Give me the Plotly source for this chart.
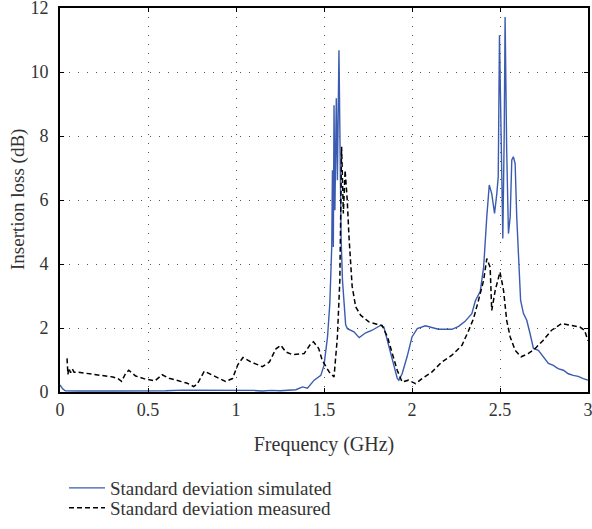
import plotly.graph_objects as go

# Simulated standard deviation (blue solid)
sim_freq = [0.0, 0.015, 0.03, 0.1, 0.3, 0.5, 0.6, 0.7, 0.8, 0.9, 1.0, 1.05, 1.1, 1.15, 1.2, 1.25,
            1.3, 1.34, 1.378, 1.406, 1.444, 1.482, 1.50, 1.52, 1.533, 1.544, 1.548, 1.553, 1.557,
            1.562, 1.57, 1.576, 1.585, 1.591, 1.597, 1.605, 1.614, 1.623, 1.633, 1.67, 1.70, 1.737,
            1.774, 1.82, 1.84, 1.87, 1.897, 1.916, 1.925, 1.944, 1.972, 2.0, 2.03, 2.076, 2.15,
            2.227, 2.265, 2.30, 2.34, 2.36, 2.388, 2.407, 2.425, 2.439, 2.453, 2.469, 2.482, 2.49,
            2.497, 2.507, 2.516, 2.524, 2.529, 2.538, 2.548, 2.558, 2.567, 2.576, 2.586, 2.595,
            2.608, 2.617, 2.633, 2.652, 2.671, 2.69, 2.718, 2.746, 2.775, 2.803, 2.83, 2.86, 2.888,
            2.916, 2.944, 2.973, 3.0]
sim_vals = [0.22, 0.1, 0.04, 0.03, 0.03, 0.03, 0.04, 0.06, 0.06, 0.06, 0.06, 0.04, 0.05, 0.03, 0.05, 0.04,
            0.06, 0.07, 0.16, 0.12, 0.37, 0.52, 0.83, 1.72, 2.76, 4.53, 6.93, 4.53, 8.96,
            5.68, 9.18, 6.62, 10.68, 6.5, 4.85, 3.49, 2.76, 2.1, 1.98, 1.88, 1.70, 1.85,
            1.93, 2.08, 2.03, 1.41, 0.79, 0.43, 0.37, 0.57, 1.10, 1.72, 1.98, 2.07, 1.96,
            1.96, 2.05, 2.2, 2.45, 2.85, 3.15, 3.9, 5.48, 6.47, 6.2, 5.58, 6.2, 6.73,
            11.15, 7.0, 4.8, 8.08, 11.72, 7.56, 4.95, 5.48, 7.25, 7.35, 7.14, 5.48,
            3.6, 2.87, 2.46, 2.24, 1.82, 1.36, 1.30, 1.09, 0.89, 0.83, 0.73, 0.68, 0.57,
            0.52, 0.49, 0.42, 0.37]

# Measured standard deviation (black dashed)
meas_freq = [0.04, 0.045, 0.05, 0.06, 0.07, 0.08, 0.1, 0.15, 0.2, 0.25, 0.3, 0.33, 0.35, 0.37, 0.39,
             0.43, 0.48, 0.54, 0.58, 0.62, 0.68, 0.72, 0.76, 0.78, 0.82, 0.87, 0.94, 0.98, 1.01,
             1.04, 1.085, 1.15, 1.19, 1.227, 1.255, 1.283, 1.32, 1.387, 1.425, 1.44, 1.47, 1.49,
             1.53, 1.557, 1.576, 1.59, 1.60, 1.61, 1.62, 1.632, 1.642, 1.66, 1.68, 1.708, 1.755,
             1.80, 1.83, 1.86, 1.887, 1.916, 1.944, 1.98, 2.02, 2.057, 2.114, 2.17, 2.227, 2.284,
             2.32, 2.35, 2.378, 2.407, 2.425, 2.444, 2.453, 2.473, 2.50, 2.52, 2.538, 2.558,
             2.586, 2.62, 2.66, 2.70, 2.746, 2.793, 2.85, 2.906, 2.954, 2.98, 3.0]
meas_vals = [1.05, 0.55, 0.75, 0.6, 0.72, 0.62, 0.62, 0.58, 0.54, 0.5, 0.47, 0.42, 0.33, 0.55, 0.68,
             0.5, 0.41, 0.35, 0.54, 0.43, 0.35, 0.28, 0.17, 0.25, 0.65, 0.52, 0.33, 0.42, 0.85,
             1.08, 0.94, 0.79, 0.94, 1.35, 1.46, 1.25, 1.17, 1.2, 1.51, 1.57, 1.36, 0.99,
             0.62, 0.47, 1.72, 3.49, 7.66, 5.58, 6.93, 6.0, 4.85, 3.3, 2.66, 2.4, 2.19,
             2.12, 2.08, 1.73, 1.2, 0.68, 0.31, 0.37, 0.26, 0.42, 0.63, 0.94, 1.15, 1.46,
             1.9, 2.3, 2.87, 3.49, 4.17, 3.9, 2.55, 3.18, 3.75, 3.18, 2.24, 1.72,
             1.30, 1.1, 1.2, 1.36, 1.62, 1.93, 2.14, 2.08, 2.03, 1.93, 1.6]

x_ticks = [0, 0.5, 1, 1.5, 2, 2.5, 3]
x_tick_text = ["0", "0.5", "1", "1.5", "2", "2.5", "3"]
y_ticks = [0, 2, 4, 6, 8, 10, 12]

FONT = "'Liberation Serif', 'DejaVu Serif', serif"
TXT = "#333333"
W, H = 592, 529

fig = go.Figure()
fig.add_trace(go.Scatter(x=sim_freq, y=sim_vals, mode="lines",
                         name="Standard deviation simulated", legend="legend",
                         line=dict(color="#3a5bb0", width=1.4)))
fig.add_trace(go.Scatter(x=meas_freq, y=meas_vals, mode="lines",
                         name="Standard deviation measured", legend="legend2",
                         line=dict(color="black", width=1.5, dash="5px,3px")))

axis_common = dict(showline=True, linecolor="black", linewidth=2, mirror="ticks",
                   ticks="inside", ticklen=4, tickcolor="black", automargin=True,
                   ticklabeloverflow="allow",
                   showgrid=True, gridcolor="#555555", griddash="1px,8px", gridwidth=1,
                   zeroline=False, tickfont=dict(family=FONT, size=18, color=TXT))

fig.update_xaxes(range=[0, 3], tickvals=x_ticks, ticktext=x_tick_text,
                 title=dict(text="Frequency (GHz)", font=dict(family=FONT, size=20, color=TXT), standoff=18),
                 **axis_common)
fig.update_yaxes(range=[0, 12], tickvals=y_ticks, ticklabelstandoff=6, **axis_common)

leg_common = dict(xref="container", yref="container", xanchor="left", yanchor="middle",
                  font=dict(family=FONT, size=19, color=TXT), bgcolor="rgba(0,0,0,0)",
                  itemwidth=36, borderwidth=0)

fig.update_layout(
    width=W, height=H,
    margin=dict(l=60, r=4, t=8, b=137, autoexpand=False),
    plot_bgcolor="white", paper_bgcolor="white",
    font=dict(family=FONT, size=18, color=TXT),
    showlegend=True,
    legend=dict(x=64 / W, y=1 - 488 / H, **leg_common),
    legend2=dict(x=64 / W, y=1 - 508 / H, **leg_common),
    annotations=[dict(text="Insertion loss (dB)", textangle=-90, showarrow=False,
                      xref="paper", yref="paper", x=(18 - 60) / 528, y=0.5,
                      xanchor="center", yanchor="middle",
                      font=dict(family=FONT, size=19, color=TXT))],
)

post = ("document.body.style.margin='0';document.body.style.padding='0';"
        "document.body.style.overflow='hidden';"
        "var gd=document.getElementById('{plot_id}');"
        "Plotly.relayout(gd,{width:592,height:529});")

fig.write_html("out.html", post_script=post,
               config={"responsive": False, "displayModeBar": False})
